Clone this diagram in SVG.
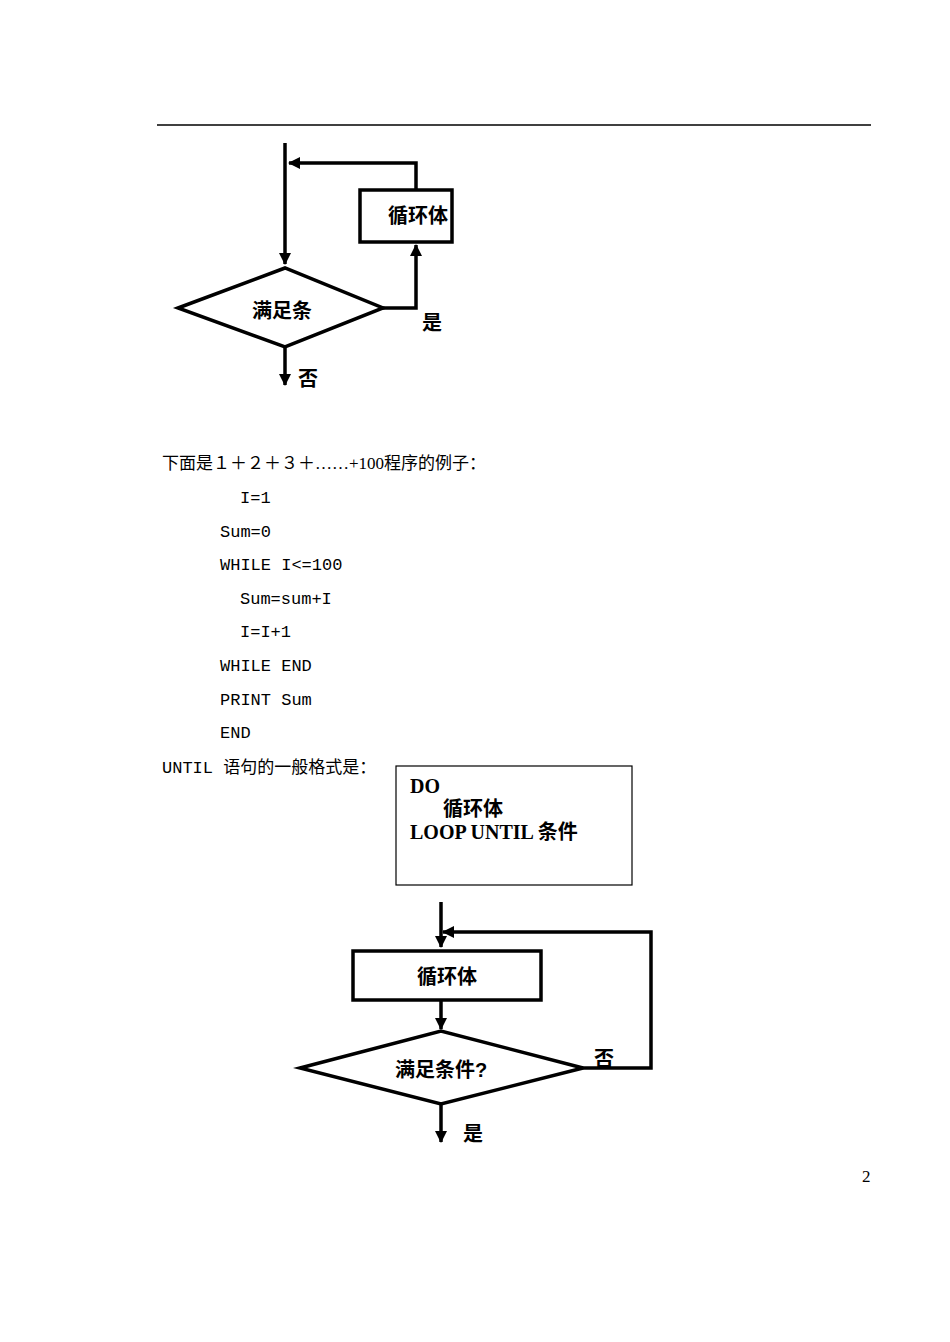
<svg xmlns="http://www.w3.org/2000/svg" width="950" height="1342" viewBox="0 0 950 1342">
<defs>
<marker id="ah" markerWidth="8" markerHeight="8" refX="7" refY="4" orient="auto" markerUnits="userSpaceOnUse" viewBox="0 0 8 8"><path d="M0,0 L8,4 L0,8 z" fill="#000"/></marker>
<marker id="ah2" markerWidth="12" markerHeight="12" refX="11" refY="6" orient="auto" markerUnits="userSpaceOnUse" viewBox="0 0 12 12"><path d="M0,0 L12,6 L0,12 z" fill="#000"/></marker>
</defs>
<style>
.s{fill:#fff;stroke:#000;stroke-width:3.5}
.c{fill:none;stroke:#000;stroke-width:3.5}
.cj{font-family:"Liberation Sans","Noto Sans CJK SC",sans-serif;font-weight:bold;fill:#000}
.b{font-family:"Liberation Serif","Noto Sans CJK SC",serif;font-size:17px;fill:#000}
.m{font-family:"Liberation Mono","Noto Sans CJK SC",monospace;font-size:17px;fill:#000}
.tb{font-family:"Liberation Serif","Noto Sans CJK SC",serif;font-size:20px;font-weight:bold;fill:#000}
</style>
<rect width="950" height="1342" fill="#fff"/>
<line x1="157" y1="125" x2="871" y2="125" stroke="#000" stroke-width="1.5"/>
<g id="connectors">
<path class="c" d="M285,143 V264" marker-end="url(#ah2)"/>
<path class="c" d="M416,190 V163 H289" marker-end="url(#ah2)"/>
<path class="c" d="M383,308 H416 V245" marker-end="url(#ah2)"/>
<path class="c" d="M285,347 V385" marker-end="url(#ah2)"/>
<path class="c" d="M441,902 V947" marker-end="url(#ah2)"/>
<path class="c" d="M583,1068 H651 V932 H443" marker-end="url(#ah2)"/>
<path class="c" d="M441,1001 V1029" marker-end="url(#ah2)"/>
<path class="c" d="M441,1104 V1142" marker-end="url(#ah2)"/>
</g>
<g id="box1"><rect class="s" x="360" y="190" width="92" height="52"/><text class="cj" x="418" y="223" font-size="20" text-anchor="middle">循环体</text></g>
<g id="dia1"><polygon class="s" points="178,308 285,268 383,308 285,347"/><text class="cj" x="282" y="318" font-size="20" text-anchor="middle" fill="#333">满足条</text></g>
<text class="cj" x="432" y="330" font-size="20" text-anchor="middle">是</text>
<text class="cj" x="308" y="386" font-size="20" text-anchor="middle">否</text>
<text class="b" x="162" y="469">下面是１＋２＋３＋……+100程序的例子：</text>
<text class="m" x="240" y="503">I=1</text>
<text class="m" x="220" y="537">Sum=0</text>
<text class="m" x="220" y="570">WHILE I&lt;=100</text>
<text class="m" x="240" y="604">Sum=sum+I</text>
<text class="m" x="240" y="637">I=I+1</text>
<text class="m" x="220" y="671">WHILE END</text>
<text class="m" x="220" y="705">PRINT Sum</text>
<text class="m" x="220" y="738">END</text>
<text class="m" x="162" y="773">UNTIL 语句的一般格式是：</text>
<g id="code"><rect x="396" y="766" width="236" height="119" fill="#fff" stroke="#000" stroke-width="1.2"/>
<text class="tb" x="410" y="793">DO</text>
<text class="tb" x="443" y="816">循环体</text>
<text class="tb" x="410" y="839">LOOP UNTIL 条件</text></g>
<g id="box2"><rect class="s" x="353" y="951" width="188" height="49"/><text class="cj" x="447" y="984" font-size="20" text-anchor="middle" font-weight="normal">循环体</text></g>
<g id="dia2"><polygon class="s" points="300,1068 441,1031 583,1068 441,1104"/><text class="cj" x="441" y="1077" font-size="20" text-anchor="middle" font-weight="normal">满足条件?</text></g>
<text class="cj" x="604" y="1066" font-size="20" text-anchor="middle">否</text>
<text class="cj" x="473" y="1141" font-size="20" text-anchor="middle">是</text>
<text class="b" x="862" y="1182">2</text>
</svg>
